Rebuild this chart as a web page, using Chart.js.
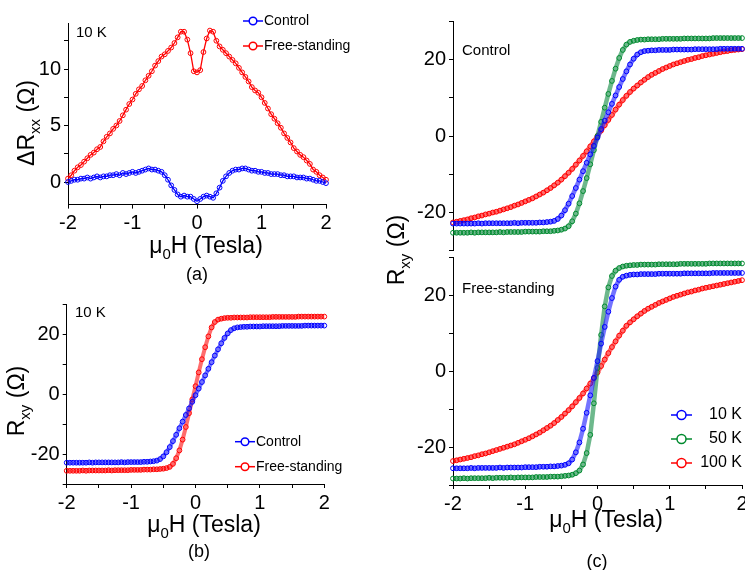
<!DOCTYPE html>
<html>
<head>
<meta charset="utf-8">
<script src="https://cdn.jsdelivr.net/npm/chart.js@4.4.1/dist/chart.umd.min.js"></script>
<style>
  html, body { margin: 0; padding: 0; background: #fff; overflow: hidden; width: 745px; height: 570px; }
  canvas { position: absolute; left: 0; top: 0; }
</style>
</head>
<body>
<canvas id="panelA" width="780" height="570"></canvas>
<canvas id="panelB" width="780" height="570"></canvas>
<canvas id="panelCTop" width="780" height="570"></canvas>
<canvas id="panelCBot" width="780" height="570"></canvas>
<script>
// field sweep (Tesla), shared by every series
const fieldT = [-2,-1.95,-1.9,-1.85,-1.8,-1.75,-1.7,-1.65,-1.6,-1.55,-1.5,-1.45,-1.4,-1.35,-1.3,-1.25,-1.2,-1.15,-1.1,-1.05,
  -1,-0.95,-0.9,-0.85,-0.8,-0.75,-0.7,-0.65,-0.6,-0.55,-0.5,-0.45,-0.4,-0.35,-0.3,-0.25,-0.2,-0.15,-0.1,-0.05,
  0,0.05,0.1,0.15,0.2,0.25,0.3,0.35,0.4,0.45,0.5,0.55,0.6,0.65,0.7,0.75,0.8,0.85,0.9,0.95,
  1,1.05,1.1,1.15,1.2,1.25,1.3,1.35,1.4,1.45,1.5,1.55,1.6,1.65,1.7,1.75,1.8,1.85,1.9,1.95,2];

// (a) delta Rxx at 10 K
const dRxxControl = [0.0,0.1,0.2,0.2,0.3,0.3,0.4,0.3,0.4,0.5,0.4,0.5,0.5,0.6,0.6,0.7,0.6,0.8,0.7,0.8,
  0.9,0.8,0.9,1.0,1.1,1.2,1.1,1.1,1.0,0.9,0.6,0.2,-0.3,-0.7,-1.1,-1.3,-1.2,-1.3,-1.3,-1.5,
  -1.7,-1.5,-1.3,-1.2,-1.3,-1.4,-1.0,-0.5,0.1,0.5,0.8,1.0,1.1,1.1,1.2,1.2,1.1,1.0,1.0,0.9,
  0.9,0.8,0.8,0.7,0.7,0.7,0.6,0.6,0.5,0.5,0.5,0.4,0.4,0.4,0.3,0.3,0.2,0.1,0.1,0.0,-0.1];
const dRxxFree = [0.3,0.6,1.0,1.3,1.5,1.8,2.1,2.4,2.6,2.9,3.1,3.6,4.0,4.3,4.7,5.0,5.4,5.9,6.4,6.9,
  7.3,7.8,8.2,8.5,9.0,9.4,9.8,10.3,10.7,11.1,11.3,11.6,11.9,12.3,12.8,13.3,13.3,12.6,11.4,9.8,
  9.7,9.9,11.5,12.7,13.4,13.3,12.5,12.0,11.7,11.4,11.1,10.8,10.5,10.1,9.7,9.3,8.9,8.4,8.1,7.9,
  7.5,7.0,6.5,6.0,5.6,5.2,4.8,4.3,3.9,3.5,3.0,2.7,2.4,2.2,1.9,1.6,1.1,0.9,0.6,0.4,0.2];

// Rxy, control film
const control10K = [-22.9,-22.9,-22.9,-22.9,-22.9,-22.9,-22.9,-22.8,-22.9,-22.8,-22.8,-22.8,-22.8,-22.8,-22.8,-22.8,-22.8,-22.7,-22.8,-22.7,
  -22.7,-22.7,-22.7,-22.7,-22.6,-22.6,-22.5,-22.4,-22.2,-21.7,-20.8,-19.4,-17.7,-15.7,-13.6,-11.4,-9.2,-7.0,-4.8,-2.6,
  -0.4,1.8,4.0,6.2,8.4,10.6,12.8,14.9,16.9,18.7,20.2,21.3,21.9,22.2,22.3,22.4,22.4,22.5,22.5,22.5,
  22.5,22.6,22.6,22.6,22.6,22.6,22.6,22.7,22.7,22.7,22.7,22.7,22.7,22.7,22.8,22.8,22.8,22.8,22.8,22.8,22.8];
const control50K = [-25.3,-25.3,-25.3,-25.3,-25.3,-25.2,-25.3,-25.2,-25.2,-25.2,-25.2,-25.2,-25.2,-25.1,-25.2,-25.1,-25.1,-25.1,-25.1,-25.1,
  -25.0,-25.0,-25.0,-25.0,-25.0,-24.9,-24.9,-24.9,-24.8,-24.7,-24.5,-24.2,-23.6,-22.3,-20.3,-17.6,-14.4,-11.0,-7.4,-3.7,
  0.0,3.7,7.4,11.0,14.4,17.6,20.4,22.5,23.9,24.6,24.9,25.1,25.2,25.2,25.3,25.3,25.3,25.3,25.4,25.4,
  25.4,25.4,25.4,25.4,25.5,25.5,25.5,25.5,25.5,25.5,25.5,25.5,25.6,25.6,25.6,25.6,25.6,25.6,25.6,25.6,25.6];
const control100K = [-22.6,-22.4,-22.2,-22.0,-21.8,-21.5,-21.3,-21.0,-20.8,-20.5,-20.3,-20.0,-19.8,-19.5,-19.2,-18.9,-18.6,-18.2,-17.9,-17.5,
  -17.1,-16.7,-16.3,-15.8,-15.3,-14.8,-14.2,-13.6,-12.9,-12.2,-11.4,-10.5,-9.6,-8.6,-7.5,-6.4,-5.2,-4.0,-2.7,-1.4,
  0.0,1.4,2.8,4.2,5.5,6.9,8.2,9.4,10.5,11.5,12.4,13.2,14.0,14.7,15.4,16.0,16.5,17.0,17.5,17.9,
  18.3,18.7,19.0,19.3,19.6,19.9,20.1,20.4,20.6,20.9,21.1,21.3,21.5,21.7,21.9,22.1,22.2,22.4,22.5,22.6,22.7];

// Rxy, free-standing film
const free10K = [-25.6,-25.6,-25.6,-25.6,-25.6,-25.5,-25.6,-25.5,-25.5,-25.5,-25.5,-25.5,-25.5,-25.4,-25.5,-25.4,-25.4,-25.4,-25.4,-25.4,
  -25.3,-25.3,-25.3,-25.3,-25.2,-25.2,-25.2,-25.1,-25.1,-25.0,-24.9,-24.7,-24.3,-23.3,-21.4,-18.8,-15.2,-11.0,-6.4,-1.8,
  2.6,7.2,11.6,15.6,19.2,22.2,24.0,24.8,25.1,25.3,25.4,25.4,25.5,25.5,25.5,25.5,25.5,25.6,25.6,25.6,
  25.6,25.6,25.6,25.6,25.7,25.7,25.7,25.7,25.7,25.7,25.7,25.7,25.8,25.8,25.8,25.8,25.8,25.8,25.8,25.8,25.8];
const free50K = [-28.3,-28.3,-28.3,-28.2,-28.3,-28.2,-28.2,-28.2,-28.2,-28.2,-28.1,-28.2,-28.1,-28.1,-28.1,-28.1,-28.0,-28.1,-28.0,-28.0,
  -28.0,-28.0,-28.0,-27.9,-27.9,-27.9,-27.9,-27.8,-27.8,-27.8,-27.7,-27.6,-27.5,-27.3,-26.9,-26.2,-24.6,-21.6,-16.8,-8.5,
  0.8,9.5,17.0,22.0,25.0,26.4,27.1,27.5,27.7,27.8,27.9,27.9,28.0,28.0,28.0,28.0,28.0,28.1,28.1,28.1,
  28.1,28.1,28.1,28.2,28.2,28.2,28.2,28.2,28.2,28.2,28.2,28.3,28.3,28.3,28.3,28.3,28.3,28.3,28.3,28.3,28.3];
const free100K = [-23.7,-23.5,-23.3,-23.1,-22.9,-22.7,-22.4,-22.2,-21.9,-21.7,-21.4,-21.1,-20.8,-20.5,-20.2,-19.9,-19.6,-19.3,-18.9,-18.5,
  -18.1,-17.7,-17.2,-16.7,-16.2,-15.6,-15.0,-14.4,-13.7,-12.9,-12.1,-11.2,-10.3,-9.3,-8.2,-7.1,-5.9,-4.6,-3.3,-1.9,
  -0.4,1.3,3.0,4.7,6.3,7.8,9.3,10.6,11.9,12.8,13.6,14.4,15.1,15.8,16.4,16.9,17.4,17.9,18.3,18.7,
  19.1,19.5,19.8,20.1,20.4,20.7,20.9,21.2,21.4,21.7,21.9,22.1,22.3,22.5,22.7,22.9,23.1,23.3,23.5,23.7,23.9];

// ticks
const xTickValues = [-2,-1.5,-1,-0.5,0,0.5,1,1.5,2];
const xTickLabels = ['-2','','-1','','0','','1','','2'];
const aYTickValues = [0,2.5,5,7.5,10,12.5];
const aYTickLabels = ['0','','5','','10',''];
const rxyTickValues = [-30,-20,-10,0,10,20,30];
const rxyTickLabels = ['','-20','','0','','20',''];

const sampleNames = ['Control', 'Free-standing'];
const tempNames = ['10 K', '50 K', '100 K'];

const BLUE = '#0000ff', RED = '#ff0000', GREEN = '#008a2e';
const BLUE_BAND = 'rgba(30,30,255,0.62)', RED_BAND = 'rgba(255,20,20,0.62)', GREEN_BAND = 'rgba(20,140,70,0.62)';
const FONT = '"Liberation Sans", Arial, Helvetica, sans-serif';
const W = 780, H = 570;

Chart.defaults.font.family = FONT;
Chart.defaults.color = '#000';

// open-circle markers joined by a line; band > 1 gives the thick dense-sweep look
function series(ys, color, band, bandColor) {
  return {
    data: fieldT.map((x, i) => ({ x: x, y: ys[i] })),
    showLine: true,
    borderColor: bandColor || color,
    borderWidth: band || 1,
    pointStyle: 'circle',
    pointRadius: 2.4,
    pointHoverRadius: 2.4,
    pointBorderWidth: 1,
    pointBorderColor: color,
    pointBackgroundColor: 'rgba(0,0,0,0)',
    clip: false
  };
}

function axis(min, max, values, labels, fit) {
  return {
    type: 'linear', min: min, max: max,
    afterBuildTicks: s => { s.ticks = values.map(v => ({ value: v })); },
    afterFit: fit,
    ticks: { autoSkip: false, maxRotation: 0, padding: 3, font: { size: 20 }, color: '#000',
      callback: (v, i) => labels[i] },
    grid: { drawOnChartArea: false, drawTicks: true, tickLength: 4, color: '#000', tickColor: '#000', tickWidth: 1 },
    border: { display: true, color: '#000', width: 1 }
  };
}

// text with subscripts: parts = [[text, isSub], ...], centred on x (or y when rotated)
function rich(ctx, parts, x, y, size, rotate) {
  ctx.save();
  ctx.translate(x, y);
  if (rotate) ctx.rotate(-Math.PI / 2);
  const subSize = Math.round(size * 0.65);
  let w = 0;
  parts.forEach(p => { ctx.font = (p[1] ? subSize : size) + 'px ' + FONT; w += ctx.measureText(p[0]).width; });
  let cx = -w / 2;
  ctx.fillStyle = '#000';
  ctx.textAlign = 'left';
  ctx.textBaseline = 'alphabetic';
  parts.forEach(p => {
    ctx.font = (p[1] ? subSize : size) + 'px ' + FONT;
    ctx.fillText(p[0], cx, p[1] ? size * 0.27 : 0);
    cx += ctx.measureText(p[0]).width;
  });
  ctx.restore();
}

function label(ctx, s, x, y, size, align) {
  ctx.save();
  ctx.font = size + 'px ' + FONT;
  ctx.fillStyle = '#000';
  ctx.textAlign = align || 'left';
  ctx.textBaseline = 'alphabetic';
  ctx.fillText(s, x, y);
  ctx.restore();
}

function legendRow(ctx, x0, x1, y, r, color, s, tx, size, align) {
  ctx.save();
  ctx.strokeStyle = color;
  ctx.lineWidth = 1.5;
  ctx.beginPath(); ctx.moveTo(x0, y); ctx.lineTo(x1, y); ctx.stroke();
  ctx.beginPath(); ctx.arc((x0 + x1) / 2, y, r, 0, Math.PI * 2);
  ctx.fillStyle = '#fff'; ctx.fill(); ctx.stroke();
  ctx.font = size + 'px ' + FONT;
  ctx.fillStyle = '#000';
  ctx.textAlign = align;
  ctx.textBaseline = 'middle';
  ctx.fillText(s, tx, y);
  ctx.restore();
}

const fieldTitle = [['\u03bc', 0], ['0', 1], ['H (Tesla)', 0]];
const rxyTitle = [['R', 0], ['xy', 1], [' (\u03a9)', 0]];
const drxxTitle = [['\u0394R', 0], ['xx', 1], [' (\u03a9)', 0]];

function panel(id, plot, showX, yMin, yMax, yValues, yLabels, datasets, drawText) {
  const xScale = showX
    ? axis(-2, 2, xTickValues, xTickLabels, s => { s.height = H - plot.bottom; })
    : { type: 'linear', min: -2, max: 2, display: false };
  new Chart(document.getElementById(id), {
    type: 'scatter',
    data: { datasets: datasets },
    options: {
      responsive: false,
      animation: false,
      events: [],
      layout: { padding: { left: 0, top: plot.top, right: W - plot.right, bottom: showX ? 0 : H - plot.bottom } },
      scales: {
        x: xScale,
        y: axis(yMin, yMax, yValues, yLabels, s => { s.width = plot.left; })
      },
      plugins: { legend: { display: false }, tooltip: { enabled: false } }
    },
    plugins: [{ id: 'text_' + id, afterDraw: chart => drawText(chart.ctx) }]
  });
}

panel('panelA', { left: 68, right: 326, top: 23.8, bottom: 204.6 }, true, -2, 14, aYTickValues, aYTickLabels,
  [series(dRxxControl, BLUE, 1.3), series(dRxxFree, RED, 1.3)],
  ctx => {
    rich(ctx, fieldTitle, 206, 253, 23, false);
    rich(ctx, drxxTitle, 33.5, 123, 23, true);
    label(ctx, '(a)', 197, 280, 18, 'center');
    label(ctx, '10 K', 76, 37, 15);
    legendRow(ctx, 243, 263, 21, 3.8, BLUE, sampleNames[0], 264, 14, 'left');
    legendRow(ctx, 243, 263, 46, 3.8, RED, sampleNames[1], 264, 14, 'left');
  });

panel('panelB', { left: 66.7, right: 324.3, top: 304, bottom: 484 }, true, -30, 30, rxyTickValues, rxyTickLabels,
  [series(control10K, BLUE, 4, BLUE_BAND), series(free10K, RED, 4, RED_BAND)],
  ctx => {
    rich(ctx, fieldTitle, 204, 531.5, 23, false);
    rich(ctx, rxyTitle, 23.5, 401, 23, true);
    label(ctx, '(b)', 199, 557, 18, 'center');
    label(ctx, '10 K', 75, 317, 15);
    legendRow(ctx, 235, 255, 441.7, 3.8, BLUE, sampleNames[0], 256, 14, 'left');
    legendRow(ctx, 235, 255, 466.7, 3.8, RED, sampleNames[1], 256, 14, 'left');
  });

panel('panelCTop', { left: 453, right: 742, top: 21.25, bottom: 250.75 }, false, -30, 30, rxyTickValues, rxyTickLabels,
  [series(control10K, BLUE, 4.5, BLUE_BAND), series(control50K, GREEN, 4.5, GREEN_BAND), series(control100K, RED, 4.5, RED_BAND)],
  ctx => {
    label(ctx, sampleNames[0], 462, 55, 15);
  });

panel('panelCBot', { left: 453, right: 742, top: 257, bottom: 485 }, true, -30, 30, rxyTickValues, rxyTickLabels,
  [series(free10K, BLUE, 4.5, BLUE_BAND), series(free50K, GREEN, 4.5, GREEN_BAND), series(free100K, RED, 4.5, RED_BAND)],
  ctx => {
    rich(ctx, fieldTitle, 606, 527, 23, false);
    rich(ctx, rxyTitle, 404, 250, 23, true);
    label(ctx, '(c)', 597, 567, 18, 'center');
    label(ctx, sampleNames[1], 462, 292.5, 15);
    legendRow(ctx, 671, 692, 415, 4.5, BLUE, tempNames[0], 742, 16, 'right');
    legendRow(ctx, 671, 692, 439, 4.5, GREEN, tempNames[1], 742, 16, 'right');
    legendRow(ctx, 671, 692, 463, 4.5, RED, tempNames[2], 742, 16, 'right');
  });
</script>
</body>
</html>
